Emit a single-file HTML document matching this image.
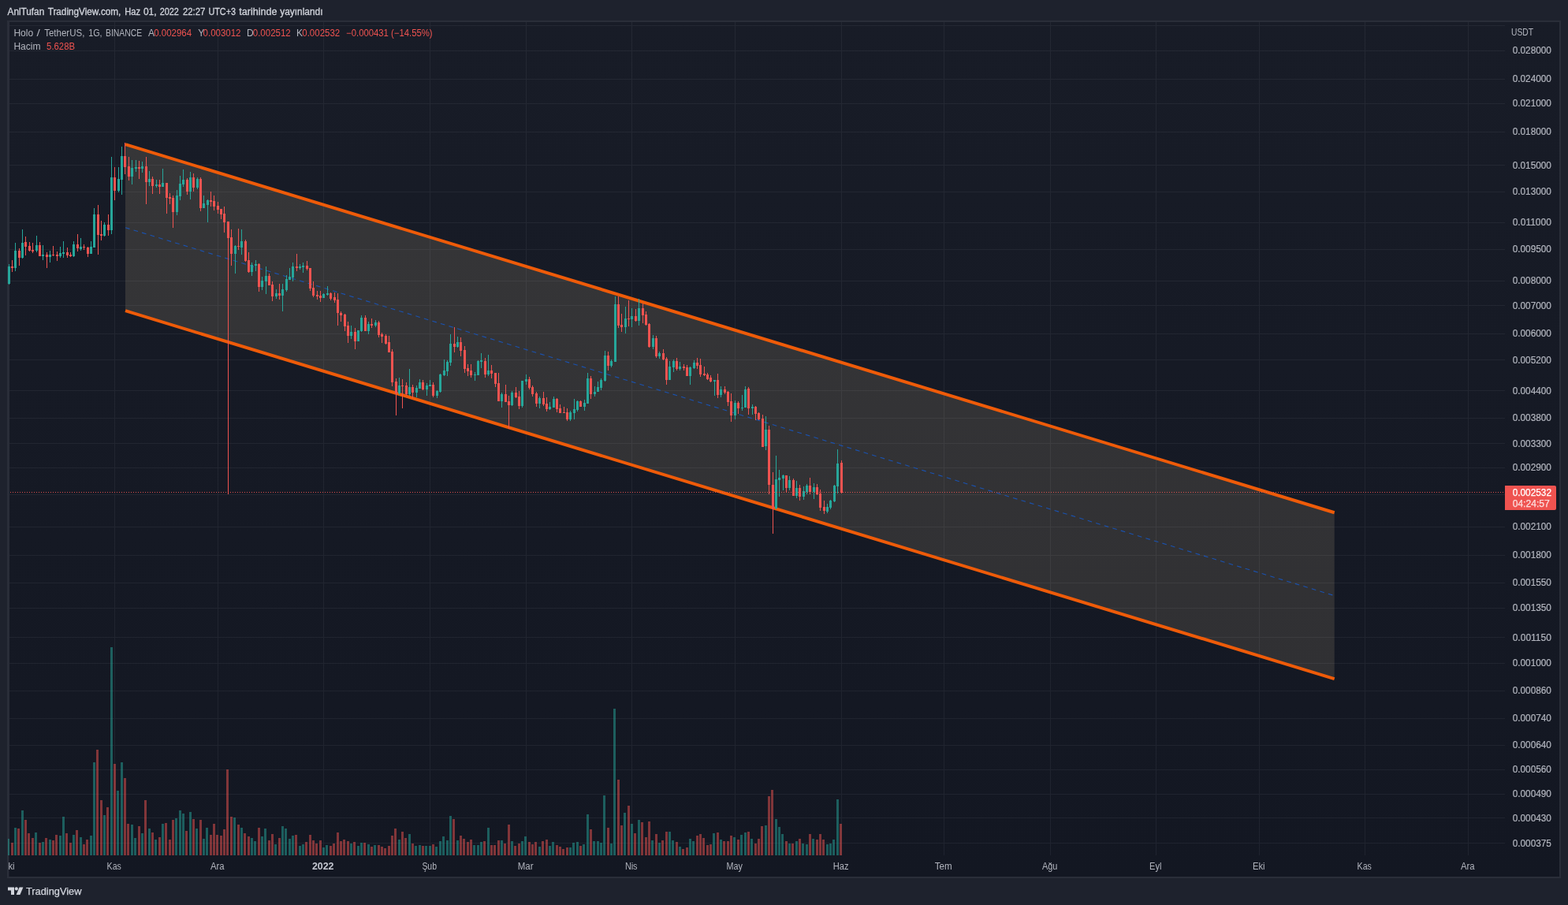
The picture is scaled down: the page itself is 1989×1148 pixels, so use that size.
<!DOCTYPE html>
<html lang="tr"><head><meta charset="utf-8"><title>HOTUSDT</title>
<style>html,body{margin:0;padding:0;background:#1e222d;width:1989px;height:1148px}svg{display:block}</style></head>
<body>
<svg width="1989" height="1148" viewBox="0 0 1989 1148" font-family='"Liberation Sans", "DejaVu Sans", sans-serif' font-size="12">
<rect width="1989" height="1148" fill="#1e222d"/>
<defs><linearGradient id="bg" gradientUnits="userSpaceOnUse" x1="0" y1="28" x2="0" y2="1112"><stop offset="0" stop-color="#181c27"/><stop offset="1" stop-color="#131722"/></linearGradient><linearGradient id="cf" gradientUnits="userSpaceOnUse" x1="0" y1="183" x2="0" y2="861"><stop offset="0" stop-color="#363638"/><stop offset="1" stop-color="#303033"/></linearGradient></defs>
<rect x="10" y="27" width="1969" height="1086" fill="url(#bg)" stroke="#2a2e39" stroke-width="2"/>
<rect x="11" y="28" width="1" height="1084" fill="#2a2e39" opacity="0.4"/>
<clipPath id="pc"><rect x="10" y="28" width="1899" height="1057"/></clipPath>
<polygon points="159,183.2 1692.7,650.25 1692.7,861.05 159,394.2" fill="url(#cf)"/>
<path d="M12 32.5H1909 M12 64.5H1909 M12 100.5H1909 M12 131.5H1909 M12 167.5H1909 M12 209.5H1909 M12 243.5H1909 M12 282.5H1909 M12 316.5H1909 M12 356.5H1909 M12 387.5H1909 M12 423.5H1909 M12 456.5H1909 M12 495.5H1909 M12 530.5H1909 M12 562.5H1909 M12 593.5H1909 M12 627.5H1909 M12 668.5H1909 M12 704.5H1909 M12 739.5H1909 M12 771.5H1909 M12 808.5H1909 M12 841.5H1909 M12 876.5H1909 M12 911.5H1909 M12 945.5H1909 M12 976.5H1909 M12 1007.5H1909 M12 1037.5H1909 M12 1069.5H1909 M11.5 28V1085 M145.5 28V1085 M276.5 28V1085 M410.5 28V1085 M545.5 28V1085 M667.5 28V1085 M801.5 28V1085 M932.5 28V1085 M1067.5 28V1085 M1197.5 28V1085 M1332.5 28V1085 M1466.5 28V1085 M1597.5 28V1085 M1731.5 28V1085 M1862.5 28V1085" stroke="rgba(240,243,250,0.06)" stroke-width="1" fill="none" shape-rendering="crispEdges"/>
<path d="M9 1064h3V1085h-3z M18 1050h3V1085h-3z M27 1028h3V1085h-3z M44 1056h3V1085h-3z M53 1068h3V1085h-3z M62 1065h3V1085h-3z M75 1060h3V1085h-3z M79 1036h3V1085h-3z M92 1059h3V1085h-3z M101 1062h3V1085h-3z M114 1060h3V1085h-3z M118 967h3V1085h-3z M131 1034h3V1085h-3z M140 821h3V1085h-3z M148 1003h3V1085h-3z M153 967h3V1085h-3z M166 1046h3V1085h-3z M170 1063h3V1085h-3z M179 1057h3V1085h-3z M188 1051h3V1085h-3z M196 1065h3V1085h-3z M205 1045h3V1085h-3z M222 1038h3V1085h-3z M227 1028h3V1085h-3z M231 1032h3V1085h-3z M240 1030h3V1085h-3z M248 1051h3V1085h-3z M257 1064h3V1085h-3z M261 1050h3V1085h-3z M296 1037h3V1085h-3z M305 1050h3V1085h-3z M318 1063h3V1085h-3z M322 1067h3V1085h-3z M331 1061h3V1085h-3z M335 1051h3V1085h-3z M348 1071h3V1085h-3z M357 1048h3V1085h-3z M361 1051h3V1085h-3z M366 1064h3V1085h-3z M370 1060h3V1085h-3z M379 1073h3V1085h-3z M383 1071h3V1085h-3z M409 1075h3V1085h-3z M413 1072h3V1085h-3z M444 1070h3V1085h-3z M453 1073h3V1085h-3z M457 1069h3V1085h-3z M466 1071h3V1085h-3z M474 1072h3V1085h-3z M505 1065h3V1085h-3z M518 1058h3V1085h-3z M526 1073h3V1085h-3z M531 1072h3V1085h-3z M539 1073h3V1085h-3z M544 1073h3V1085h-3z M552 1074h3V1085h-3z M557 1067h3V1085h-3z M561 1061h3V1085h-3z M566 1066h3V1085h-3z M570 1035h3V1085h-3z M579 1066h3V1085h-3z M600 1072h3V1085h-3z M605 1072h3V1085h-3z M609 1068h3V1085h-3z M618 1050h3V1085h-3z M635 1066h3V1085h-3z M648 1067h3V1085h-3z M661 1067h3V1085h-3z M665 1061h3V1085h-3z M683 1074h3V1085h-3z M696 1073h3V1085h-3z M700 1068h3V1085h-3z M722 1075h3V1085h-3z M726 1069h3V1085h-3z M731 1068h3V1085h-3z M739 1071h3V1085h-3z M744 1033h3V1085h-3z M752 1067h3V1085h-3z M757 1067h3V1085h-3z M761 1069h3V1085h-3z M765 1009h3V1085h-3z M774 1070h3V1085h-3z M778 899h3V1085h-3z M791 1031h3V1085h-3z M800 1045h3V1085h-3z M809 1040h3V1085h-3z M826 1066h3V1085h-3z M835 1069h3V1085h-3z M848 1055h3V1085h-3z M852 1066h3V1085h-3z M861 1074h3V1085h-3z M874 1064h3V1085h-3z M878 1067h3V1085h-3z M904 1057h3V1085h-3z M913 1065h3V1085h-3z M930 1062h3V1085h-3z M939 1059h3V1085h-3z M944 1056h3V1085h-3z M952 1064h3V1085h-3z M970 1047h3V1085h-3z M983 1039h3V1085h-3z M987 1049h3V1085h-3z M991 1058h3V1085h-3z M1000 1070h3V1085h-3z M1009 1067h3V1085h-3z M1017 1070h3V1085h-3z M1022 1071h3V1085h-3z M1030 1064h3V1085h-3z M1048 1071h3V1085h-3z M1052 1070h3V1085h-3z M1056 1065h3V1085h-3z M1061 1014h3V1085h-3z" fill="#26a69a" fill-opacity="0.5" shape-rendering="crispEdges" clip-path="url(#pc)"/>
<path d="M14 1069h3V1085h-3z M22 1051h3V1085h-3z M31 1040h3V1085h-3z M35 1057h3V1085h-3z M40 1063h3V1085h-3z M49 1069h3V1085h-3z M57 1063h3V1085h-3z M66 1066h3V1085h-3z M70 1059h3V1085h-3z M83 1057h3V1085h-3z M88 1069h3V1085h-3z M96 1053h3V1085h-3z M105 1071h3V1085h-3z M109 1065h3V1085h-3z M122 951h3V1085h-3z M127 1015h3V1085h-3z M135 1024h3V1085h-3z M144 969h3V1085h-3z M157 987h3V1085h-3z M161 1045h3V1085h-3z M175 1048h3V1085h-3z M183 1015h3V1085h-3z M192 1056h3V1085h-3z M201 1062h3V1085h-3z M209 1044h3V1085h-3z M214 1065h3V1085h-3z M218 1040h3V1085h-3z M235 1054h3V1085h-3z M244 1039h3V1085h-3z M253 1040h3V1085h-3z M266 1059h3V1085h-3z M270 1045h3V1085h-3z M274 1059h3V1085h-3z M279 1060h3V1085h-3z M283 1052h3V1085h-3z M287 976h3V1085h-3z M292 1036h3V1085h-3z M301 1046h3V1085h-3z M309 1057h3V1085h-3z M314 1061h3V1085h-3z M327 1050h3V1085h-3z M340 1066h3V1085h-3z M344 1058h3V1085h-3z M353 1063h3V1085h-3z M374 1059h3V1085h-3z M387 1068h3V1085h-3z M392 1059h3V1085h-3z M396 1066h3V1085h-3z M400 1070h3V1085h-3z M405 1066h3V1085h-3z M418 1073h3V1085h-3z M422 1070h3V1085h-3z M427 1056h3V1085h-3z M431 1067h3V1085h-3z M435 1065h3V1085h-3z M440 1067h3V1085h-3z M448 1068h3V1085h-3z M461 1069h3V1085h-3z M470 1074h3V1085h-3z M479 1072h3V1085h-3z M483 1074h3V1085h-3z M487 1076h3V1085h-3z M492 1073h3V1085h-3z M496 1060h3V1085h-3z M500 1051h3V1085h-3z M509 1055h3V1085h-3z M513 1063h3V1085h-3z M522 1070h3V1085h-3z M535 1073h3V1085h-3z M548 1071h3V1085h-3z M574 1039h3V1085h-3z M583 1060h3V1085h-3z M587 1064h3V1085h-3z M592 1068h3V1085h-3z M596 1065h3V1085h-3z M613 1067h3V1085h-3z M622 1072h3V1085h-3z M626 1072h3V1085h-3z M631 1066h3V1085h-3z M639 1070h3V1085h-3z M644 1046h3V1085h-3z M652 1073h3V1085h-3z M657 1070h3V1085h-3z M670 1068h3V1085h-3z M674 1071h3V1085h-3z M678 1068h3V1085h-3z M687 1067h3V1085h-3z M692 1065h3V1085h-3z M705 1072h3V1085h-3z M709 1074h3V1085h-3z M713 1077h3V1085h-3z M718 1075h3V1085h-3z M735 1073h3V1085h-3z M748 1052h3V1085h-3z M770 1050h3V1085h-3z M783 989h3V1085h-3z M787 1047h3V1085h-3z M796 1022h3V1085h-3z M804 1057h3V1085h-3z M813 1043h3V1085h-3z M818 1062h3V1085h-3z M822 1042h3V1085h-3z M831 1058h3V1085h-3z M839 1066h3V1085h-3z M844 1055h3V1085h-3z M857 1068h3V1085h-3z M865 1077h3V1085h-3z M870 1075h3V1085h-3z M883 1060h3V1085h-3z M887 1058h3V1085h-3z M891 1063h3V1085h-3z M896 1072h3V1085h-3z M900 1071h3V1085h-3z M909 1056h3V1085h-3z M917 1067h3V1085h-3z M922 1067h3V1085h-3z M926 1060h3V1085h-3z M935 1065h3V1085h-3z M948 1055h3V1085h-3z M957 1070h3V1085h-3z M961 1064h3V1085h-3z M965 1048h3V1085h-3z M974 1010h3V1085h-3z M978 1002h3V1085h-3z M996 1067h3V1085h-3z M1004 1070h3V1085h-3z M1013 1064h3V1085h-3z M1026 1058h3V1085h-3z M1035 1065h3V1085h-3z M1039 1058h3V1085h-3z M1043 1065h3V1085h-3z M1065 1045h3V1085h-3z" fill="#ef5350" fill-opacity="0.5" shape-rendering="crispEdges" clip-path="url(#pc)"/>
<line x1="159" y1="288.7" x2="1692.7" y2="755.58" stroke="#1a52b0" stroke-width="1.1" stroke-dasharray="5.7 5.3"/>
<path d="M159 183.2L1692.7 650.25M159 394.2L1692.7 861.05" stroke="#ee5b09" stroke-width="4" fill="none"/>
<path d="M11.5 335V361 M19.5 308V344 M28.5 291V328 M46.5 299V320 M54.5 311V330 M63.5 318V333 M76.5 313V327 M80.5 306V327 M93.5 306V326 M102.5 302V318 M115.5 306V322 M119.5 264V314 M132.5 282V300 M141.5 199V297 M150.5 212V244 M154.5 186V247 M167.5 203V234 M172.5 203V218 M180.5 205V219 M189.5 217V236 M198.5 228V238 M206.5 214V237 M224.5 241V273 M228.5 223V254 M232.5 215V237 M241.5 218V253 M250.5 225V240 M258.5 248V264 M263.5 253V282 M298.5 311V347 M306.5 291V323 M319.5 333V350 M324.5 330V344 M332.5 351V368 M337.5 338V373 M350.5 367V379 M358.5 360V395 M363.5 349V370 M367.5 340V355 M371.5 333V357 M380.5 335V342 M384.5 333V346 M410.5 372V378 M415.5 363V375 M445.5 413V430 M454.5 419V433 M458.5 400V421 M467.5 408V424 M476.5 406V415 M506.5 479V501 M519.5 468V502 M528.5 489V504 M532.5 481V493 M541.5 486V502 M545.5 482V490 M554.5 495V505 M558.5 474V498 M563.5 456V477 M567.5 457V477 M571.5 424V464 M580.5 427V441 M602.5 472V483 M606.5 457V476 M610.5 448V467 M619.5 450V477 M636.5 498V517 M649.5 496V515 M662.5 483V517 M667.5 475V488 M684.5 503V518 M697.5 510V520 M702.5 503V517 M723.5 521V534 M728.5 506V532 M732.5 508V522 M741.5 507V521 M745.5 473V512 M754.5 490V503 M758.5 484V497 M762.5 480V495 M767.5 445V484 M775.5 456V466 M780.5 376V459 M793.5 389V423 M801.5 391V415 M810.5 379V413 M828.5 425V443 M836.5 446V455 M849.5 458V482 M854.5 456V472 M862.5 459V470 M875.5 465V488 M880.5 457V468 M906.5 482V502 M914.5 490V504 M932.5 508V532 M941.5 501V521 M945.5 490V517 M954.5 513V526 M971.5 528V571 M984.5 578V646 M988.5 596V630 M993.5 602V622 M1001.5 604V622 M1010.5 610V632 M1019.5 617V634 M1023.5 614V627 M1032.5 613V633 M1049.5 639V651 M1053.5 634V646 M1058.5 615V637 M1062.5 570V626" stroke="#26a69a" stroke-width="1" fill="none" shape-rendering="crispEdges"/>
<path d="M10 338h3v22h-3z M18 318h3v22h-3z M27 308h3v19h-3z M45 311h3v7h-3z M53 323h3v2h-3z M62 323h3v3h-3z M75 321h3v4h-3z M79 320h3v2h-3z M92 310h3v15h-3z M101 313h3v3h-3z M114 313h3v9h-3z M118 272h3v42h-3z M131 285h3v14h-3z M140 225h3v67h-3z M149 227h3v15h-3z M153 198h3v30h-3z M166 213h3v11h-3z M171 212h3v2h-3z M179 211h3v3h-3z M188 227h3v4h-3z M197 234h3v2h-3z M205 232h3v5h-3z M223 248h3v21h-3z M227 233h3v16h-3z M231 228h3v6h-3z M240 225h3v18h-3z M249 227h3v11h-3z M257 258h3v6h-3z M262 254h3v6h-3z M297 312h3v10h-3z M305 306h3v8h-3z M318 336h3v9h-3z M323 335h3v2h-3z M331 356h3v8h-3z M336 350h3v7h-3z M349 372h3v4h-3z M357 367h3v8h-3z M362 354h3v14h-3z M366 351h3v4h-3z M370 338h3v14h-3z M379 338h3v2h-3z M383 337h3v2h-3z M409 373h3v5h-3z M414 372h3v2h-3z M444 421h3v5h-3z M453 419h3v14h-3z M457 403h3v17h-3z M466 411h3v9h-3z M475 409h3v4h-3z M505 489h3v10h-3z M518 491h3v9h-3z M527 492h3v6h-3z M531 485h3v8h-3z M540 489h3v5h-3z M544 488h3v2h-3z M553 496h3v6h-3z M557 475h3v22h-3z M562 470h3v6h-3z M566 459h3v12h-3z M570 436h3v24h-3z M579 434h3v6h-3z M601 475h3v1h-3z M605 458h3v18h-3z M609 457h3v2h-3z M618 470h3v5h-3z M635 500h3v9h-3z M648 498h3v16h-3z M661 483h3v32h-3z M666 481h3v3h-3z M683 505h3v7h-3z M696 516h3v3h-3z M701 506h3v11h-3z M722 523h3v9h-3z M727 519h3v5h-3z M731 509h3v11h-3z M740 511h3v5h-3z M744 480h3v32h-3z M753 497h3v3h-3z M757 491h3v6h-3z M761 482h3v10h-3z M766 451h3v32h-3z M774 458h3v6h-3z M779 386h3v73h-3z M792 404h3v11h-3z M800 401h3v4h-3z M809 391h3v16h-3z M827 429h3v11h-3z M835 448h3v4h-3z M848 465h3v17h-3z M853 458h3v8h-3z M861 465h3v3h-3z M874 466h3v11h-3z M879 460h3v7h-3z M905 482h3v2h-3z M913 494h3v7h-3z M931 511h3v16h-3z M940 517h3v1h-3z M944 494h3v23h-3z M953 516h3v2h-3z M970 545h3v21h-3z M983 608h3v37h-3z M987 606h3v3h-3z M992 603h3v4h-3z M1000 609h3v10h-3z M1009 619h3v10h-3z M1018 623h3v7h-3z M1022 616h3v8h-3z M1031 618h3v6h-3z M1048 643h3v6h-3z M1052 635h3v9h-3z M1057 616h3v20h-3z M1061 588h3v29h-3z" fill="#26a69a" shape-rendering="crispEdges" clip-path="url(#pc)"/>
<path d="M15.5 330V345 M24.5 315V337 M32.5 300V324 M37.5 307V319 M41.5 308V321 M50.5 307V325 M59.5 320V340 M67.5 312V325 M72.5 319V331 M85.5 314V327 M89.5 320V326 M98.5 297V319 M106.5 310V317 M111.5 313V326 M124.5 260V323 M128.5 280V305 M137.5 272V299 M145.5 212V254 M158.5 181V221 M163.5 199V229 M176.5 204V227 M185.5 199V259 M193.5 224V246 M202.5 228V246 M211.5 232V271 M215.5 245V259 M219.5 248V289 M237.5 226V247 M245.5 220V243 M254.5 225V268 M267.5 243V262 M271.5 248V267 M276.5 256V271 M280.5 265V278 M284.5 262V295 M289.5 281V627 M293.5 291V337 M302.5 290V317 M311.5 304V332 M315.5 320V346 M328.5 334V370 M341.5 347V362 M345.5 357V382 M354.5 360V380 M376.5 322V344 M389.5 331V343 M393.5 340V369 M397.5 357V377 M402.5 369V380 M406.5 369V383 M419.5 371V381 M424.5 371V384 M428.5 372V413 M432.5 395V408 M437.5 398V420 M441.5 408V435 M450.5 416V443 M463.5 400V420 M471.5 404V416 M480.5 407V428 M484.5 422V435 M489.5 424V437 M493.5 426V447 M497.5 443V490 M502.5 480V527 M510.5 481V518 M515.5 485V502 M523.5 488V505 M536.5 482V495 M549.5 485V504 M576.5 415V447 M584.5 428V452 M589.5 439V473 M593.5 462V477 M597.5 462V479 M615.5 454V479 M623.5 463V480 M628.5 473V491 M632.5 473V509 M641.5 488V510 M645.5 502V544 M654.5 491V505 M658.5 496V519 M671.5 478V494 M675.5 489V503 M680.5 497V516 M689.5 497V515 M693.5 504V522 M706.5 505V523 M710.5 513V524 M715.5 516V524 M719.5 518V534 M736.5 508V516 M749.5 477V506 M771.5 446V470 M784.5 376V416 M788.5 398V421 M797.5 381V414 M806.5 392V408 M815.5 385V410 M819.5 395V413 M823.5 410V441 M832.5 426V454 M841.5 443V457 M845.5 453V488 M858.5 454V470 M867.5 462V470 M871.5 463V477 M884.5 454V468 M888.5 455V478 M893.5 465V477 M897.5 473V482 M901.5 476V485 M910.5 474V505 M919.5 490V500 M923.5 496V515 M927.5 499V535 M936.5 509V525 M949.5 491V526 M958.5 515V533 M962.5 523V533 M967.5 526V567 M975.5 540V627 M980.5 599V677 M997.5 603V625 M1006.5 607V629 M1014.5 615V635 M1027.5 606V627 M1036.5 614V628 M1040.5 621V648 M1045.5 635V652 M1067.5 584V626" stroke="#ef5350" stroke-width="1" fill="none" shape-rendering="crispEdges"/>
<path d="M14 338h3v2h-3z M23 318h3v9h-3z M31 307h3v6h-3z M36 312h3v6h-3z M40 317h3v2h-3z M49 311h3v14h-3z M58 323h3v3h-3z M66 323h3v1h-3z M71 323h3v2h-3z M84 320h3v4h-3z M88 323h3v2h-3z M97 310h3v5h-3z M105 313h3v1h-3z M110 314h3v8h-3z M123 272h3v26h-3z M127 297h3v2h-3z M136 285h3v7h-3z M144 225h3v17h-3z M157 198h3v14h-3z M162 211h3v13h-3z M175 212h3v2h-3z M184 211h3v20h-3z M192 227h3v9h-3z M201 234h3v3h-3z M210 232h3v19h-3z M214 250h3v2h-3z M218 251h3v18h-3z M236 228h3v15h-3z M244 225h3v13h-3z M253 227h3v37h-3z M266 254h3v2h-3z M270 255h3v7h-3z M275 261h3v5h-3z M279 265h3v7h-3z M283 271h3v11h-3z M288 281h3v21h-3z M292 301h3v21h-3z M301 312h3v1h-3z M310 306h3v25h-3z M314 330h3v15h-3z M327 335h3v29h-3z M340 350h3v12h-3z M344 361h3v15h-3z M353 372h3v3h-3z M375 338h3v2h-3z M388 337h3v4h-3z M392 340h3v26h-3z M396 365h3v10h-3z M401 374h3v2h-3z M405 375h3v3h-3z M418 372h3v7h-3z M423 377h3v4h-3z M427 380h3v17h-3z M431 397h3v3h-3z M436 399h3v15h-3z M440 413h3v13h-3z M449 421h3v12h-3z M462 403h3v17h-3z M470 411h3v2h-3z M479 409h3v16h-3z M483 424h3v3h-3z M488 426h3v10h-3z M492 434h3v13h-3z M496 446h3v39h-3z M501 484h3v15h-3z M509 489h3v1h-3z M514 489h3v11h-3z M522 491h3v7h-3z M535 485h3v9h-3z M548 488h3v14h-3z M575 436h3v4h-3z M583 434h3v11h-3z M588 444h3v24h-3z M592 467h3v4h-3z M596 470h3v6h-3z M614 458h3v17h-3z M622 470h3v4h-3z M627 473h3v14h-3z M631 486h3v23h-3z M640 500h3v10h-3z M644 509h3v5h-3z M653 498h3v6h-3z M657 503h3v12h-3z M670 481h3v11h-3z M674 491h3v9h-3z M679 499h3v13h-3z M688 505h3v8h-3z M692 512h3v7h-3z M705 506h3v13h-3z M709 518h3v6h-3z M714 523h3v1h-3z M718 523h3v9h-3z M735 509h3v7h-3z M748 480h3v20h-3z M770 451h3v13h-3z M783 386h3v27h-3z M787 412h3v3h-3z M796 404h3v1h-3z M805 401h3v6h-3z M814 391h3v9h-3z M818 399h3v13h-3z M822 411h3v29h-3z M831 429h3v23h-3z M840 448h3v8h-3z M844 455h3v27h-3z M857 458h3v10h-3z M866 465h3v2h-3z M870 466h3v11h-3z M883 460h3v4h-3z M887 463h3v12h-3z M892 474h3v2h-3z M896 475h3v6h-3z M900 479h3v5h-3z M909 482h3v19h-3z M918 494h3v4h-3z M922 497h3v13h-3z M926 509h3v18h-3z M935 511h3v7h-3z M948 493h3v25h-3z M957 516h3v9h-3z M961 524h3v8h-3z M966 531h3v36h-3z M974 545h3v70h-3z M979 615h3v30h-3z M996 603h3v16h-3z M1005 609h3v20h-3z M1013 619h3v11h-3z M1026 616h3v8h-3z M1035 618h3v9h-3z M1039 626h3v18h-3z M1044 643h3v5h-3z M1066 587h3v38h-3z" fill="#ef5350" shape-rendering="crispEdges" clip-path="url(#pc)"/>
<path d="M11 624.5H1909" stroke="#ef5350" stroke-width="1" stroke-dasharray="1 2" stroke-dashoffset="1" fill="none" shape-rendering="crispEdges" opacity="0.9"/>
<text x="1918.7" y="68.36" fill="#b2b5be" textLength="49.2" lengthAdjust="spacingAndGlyphs" stroke="#b2b5be" stroke-width="0.2">0.028000</text>
<text x="1918.7" y="104.3" fill="#b2b5be" textLength="49.2" lengthAdjust="spacingAndGlyphs" stroke="#b2b5be" stroke-width="0.2">0.024000</text>
<text x="1918.7" y="135.42" fill="#b2b5be" textLength="49.2" lengthAdjust="spacingAndGlyphs" stroke="#b2b5be" stroke-width="0.2">0.021000</text>
<text x="1918.7" y="171.35" fill="#b2b5be" textLength="49.2" lengthAdjust="spacingAndGlyphs" stroke="#b2b5be" stroke-width="0.2">0.018000</text>
<text x="1918.7" y="213.85" fill="#b2b5be" textLength="49.2" lengthAdjust="spacingAndGlyphs" stroke="#b2b5be" stroke-width="0.2">0.015000</text>
<text x="1918.7" y="247.21" fill="#b2b5be" textLength="49.2" lengthAdjust="spacingAndGlyphs" stroke="#b2b5be" stroke-width="0.2">0.013000</text>
<text x="1918.7" y="286.15" fill="#b2b5be" textLength="49.2" lengthAdjust="spacingAndGlyphs" stroke="#b2b5be" stroke-width="0.2">0.011000</text>
<text x="1918.7" y="320.32" fill="#b2b5be" textLength="49.2" lengthAdjust="spacingAndGlyphs" stroke="#b2b5be" stroke-width="0.2">0.009500</text>
<text x="1918.7" y="360.38" fill="#b2b5be" textLength="49.2" lengthAdjust="spacingAndGlyphs" stroke="#b2b5be" stroke-width="0.2">0.008000</text>
<text x="1918.7" y="391.51" fill="#b2b5be" textLength="49.2" lengthAdjust="spacingAndGlyphs" stroke="#b2b5be" stroke-width="0.2">0.007000</text>
<text x="1918.7" y="427.44" fill="#b2b5be" textLength="49.2" lengthAdjust="spacingAndGlyphs" stroke="#b2b5be" stroke-width="0.2">0.006000</text>
<text x="1918.7" y="460.8" fill="#b2b5be" textLength="49.2" lengthAdjust="spacingAndGlyphs" stroke="#b2b5be" stroke-width="0.2">0.005200</text>
<text x="1918.7" y="499.74" fill="#b2b5be" textLength="49.2" lengthAdjust="spacingAndGlyphs" stroke="#b2b5be" stroke-width="0.2">0.004400</text>
<text x="1918.7" y="533.91" fill="#b2b5be" textLength="49.2" lengthAdjust="spacingAndGlyphs" stroke="#b2b5be" stroke-width="0.2">0.003800</text>
<text x="1918.7" y="566.8" fill="#b2b5be" textLength="49.2" lengthAdjust="spacingAndGlyphs" stroke="#b2b5be" stroke-width="0.2">0.003300</text>
<text x="1918.7" y="596.92" fill="#b2b5be" textLength="49.2" lengthAdjust="spacingAndGlyphs" stroke="#b2b5be" stroke-width="0.2">0.002900</text>
<text x="1918.7" y="672.15" fill="#b2b5be" textLength="49.2" lengthAdjust="spacingAndGlyphs" stroke="#b2b5be" stroke-width="0.2">0.002100</text>
<text x="1918.7" y="708.09" fill="#b2b5be" textLength="49.2" lengthAdjust="spacingAndGlyphs" stroke="#b2b5be" stroke-width="0.2">0.001800</text>
<text x="1918.7" y="742.94" fill="#b2b5be" textLength="49.2" lengthAdjust="spacingAndGlyphs" stroke="#b2b5be" stroke-width="0.2">0.001550</text>
<text x="1918.7" y="775.15" fill="#b2b5be" textLength="49.2" lengthAdjust="spacingAndGlyphs" stroke="#b2b5be" stroke-width="0.2">0.001350</text>
<text x="1918.7" y="812.52" fill="#b2b5be" textLength="49.2" lengthAdjust="spacingAndGlyphs" stroke="#b2b5be" stroke-width="0.2">0.001150</text>
<text x="1918.7" y="845.1" fill="#b2b5be" textLength="49.2" lengthAdjust="spacingAndGlyphs" stroke="#b2b5be" stroke-width="0.2">0.001000</text>
<text x="1918.7" y="880.26" fill="#b2b5be" textLength="49.2" lengthAdjust="spacingAndGlyphs" stroke="#b2b5be" stroke-width="0.2">0.000860</text>
<text x="1918.7" y="915.29" fill="#b2b5be" textLength="49.2" lengthAdjust="spacingAndGlyphs" stroke="#b2b5be" stroke-width="0.2">0.000740</text>
<text x="1918.7" y="949.13" fill="#b2b5be" textLength="49.2" lengthAdjust="spacingAndGlyphs" stroke="#b2b5be" stroke-width="0.2">0.000640</text>
<text x="1918.7" y="980.26" fill="#b2b5be" textLength="49.2" lengthAdjust="spacingAndGlyphs" stroke="#b2b5be" stroke-width="0.2">0.000560</text>
<text x="1918.7" y="1011.38" fill="#b2b5be" textLength="49.2" lengthAdjust="spacingAndGlyphs" stroke="#b2b5be" stroke-width="0.2">0.000490</text>
<text x="1918.7" y="1041.83" fill="#b2b5be" textLength="49.2" lengthAdjust="spacingAndGlyphs" stroke="#b2b5be" stroke-width="0.2">0.000430</text>
<text x="1918.7" y="1073.73" fill="#b2b5be" textLength="49.2" lengthAdjust="spacingAndGlyphs" stroke="#b2b5be" stroke-width="0.2">0.000375</text>
<text x="1917" y="44.8" fill="#b2b5be" textLength="28" lengthAdjust="spacingAndGlyphs">USDT</text>
<path d="M1909 616h63a2 2 0 0 1 2 2v27a2 2 0 0 1 -2 2h-63z" fill="#ef5350"/>
<text x="1918.7" y="629.3" fill="#ffffff" textLength="49.3" lengthAdjust="spacingAndGlyphs" stroke="#ffffff" stroke-width="0.25">0.002532</text>
<text x="1918.7" y="643.3" fill="#fbdcdc" textLength="47.0" lengthAdjust="spacingAndGlyphs" stroke="#fbdcdc" stroke-width="0.25">04:24:57</text>
<text x="10.7" y="1102.6" fill="#b2b5be" text-anchor="middle" textLength="15.6" lengthAdjust="spacingAndGlyphs">Eki</text>
<text x="144.7" y="1102.6" fill="#b2b5be" text-anchor="middle" textLength="18.2" lengthAdjust="spacingAndGlyphs">Kas</text>
<text x="275.7" y="1102.6" fill="#b2b5be" text-anchor="middle" textLength="17.6" lengthAdjust="spacingAndGlyphs">Ara</text>
<text x="409.7" y="1102.6" fill="#c3c6d0" text-anchor="middle" textLength="27.6" lengthAdjust="spacingAndGlyphs" font-weight="bold">2022</text>
<text x="544.7" y="1102.6" fill="#b2b5be" text-anchor="middle" textLength="18.6" lengthAdjust="spacingAndGlyphs">Şub</text>
<text x="666.7" y="1102.6" fill="#b2b5be" text-anchor="middle" textLength="19.8" lengthAdjust="spacingAndGlyphs">Mar</text>
<text x="800.7" y="1102.6" fill="#b2b5be" text-anchor="middle" textLength="15.6" lengthAdjust="spacingAndGlyphs">Nis</text>
<text x="931.7" y="1102.6" fill="#b2b5be" text-anchor="middle" textLength="20.3" lengthAdjust="spacingAndGlyphs">May</text>
<text x="1066.7" y="1102.6" fill="#b2b5be" text-anchor="middle" textLength="19.8" lengthAdjust="spacingAndGlyphs">Haz</text>
<text x="1196.7" y="1102.6" fill="#b2b5be" text-anchor="middle" textLength="21.9" lengthAdjust="spacingAndGlyphs">Tem</text>
<text x="1331.7" y="1102.6" fill="#b2b5be" text-anchor="middle" textLength="19.4" lengthAdjust="spacingAndGlyphs">Ağu</text>
<text x="1465.7" y="1102.6" fill="#b2b5be" text-anchor="middle" textLength="15.4" lengthAdjust="spacingAndGlyphs">Eyl</text>
<text x="1596.7" y="1102.6" fill="#b2b5be" text-anchor="middle" textLength="15.6" lengthAdjust="spacingAndGlyphs">Eki</text>
<text x="1730.7" y="1102.6" fill="#b2b5be" text-anchor="middle" textLength="18.2" lengthAdjust="spacingAndGlyphs">Kas</text>
<text x="1861.7" y="1102.6" fill="#b2b5be" text-anchor="middle" textLength="17.6" lengthAdjust="spacingAndGlyphs">Ara</text>
<rect x="0" y="1086" width="9" height="26" fill="#1e222d"/><rect x="9" y="1086" width="2" height="26" fill="#2a2e39"/>
<text x="9.6" y="18.9" fill="#d1d4dc" textLength="46.6" lengthAdjust="spacingAndGlyphs" stroke="#d1d4dc" stroke-width="0.3">AnlTufan</text>
<text x="60.7" y="18.9" fill="#d1d4dc" textLength="92.7" lengthAdjust="spacingAndGlyphs" stroke="#d1d4dc" stroke-width="0.3">TradingView.com,</text>
<text x="158.3" y="18.9" fill="#d1d4dc" textLength="19.7" lengthAdjust="spacingAndGlyphs" stroke="#d1d4dc" stroke-width="0.3">Haz</text>
<text x="181.9" y="18.9" fill="#d1d4dc" textLength="16.6" lengthAdjust="spacingAndGlyphs" stroke="#d1d4dc" stroke-width="0.3">01,</text>
<text x="202.7" y="18.9" fill="#d1d4dc" textLength="24.2" lengthAdjust="spacingAndGlyphs" stroke="#d1d4dc" stroke-width="0.3">2022</text>
<text x="232" y="18.9" fill="#d1d4dc" textLength="28.4" lengthAdjust="spacingAndGlyphs" stroke="#d1d4dc" stroke-width="0.3">22:27</text>
<text x="264.4" y="18.9" fill="#d1d4dc" textLength="34.6" lengthAdjust="spacingAndGlyphs" stroke="#d1d4dc" stroke-width="0.3">UTC+3</text>
<text x="303.2" y="18.9" fill="#d1d4dc" textLength="48.3" lengthAdjust="spacingAndGlyphs" stroke="#d1d4dc" stroke-width="0.3">tarihinde</text>
<text x="355.3" y="18.9" fill="#d1d4dc" textLength="54.2" lengthAdjust="spacingAndGlyphs" stroke="#d1d4dc" stroke-width="0.3">yayınlandı</text>
<text x="17.4" y="46.0" fill="#b2b5be" textLength="24.8" lengthAdjust="spacingAndGlyphs">Holo</text>
<text x="46.6" y="46.0" fill="#b2b5be" textLength="4.3" lengthAdjust="spacingAndGlyphs">/</text>
<text x="56.2" y="46.0" fill="#b2b5be" textLength="51.2" lengthAdjust="spacingAndGlyphs">TetherUS,</text>
<text x="112.3" y="46.0" fill="#b2b5be" textLength="17.3" lengthAdjust="spacingAndGlyphs">1G,</text>
<text x="134.0" y="46.0" fill="#b2b5be" textLength="46.2" lengthAdjust="spacingAndGlyphs">BINANCE</text>
<text x="187.9" y="46.0" fill="#b2b5be">A</text>
<text x="195.2" y="46.0" fill="#ef5350" textLength="47.9" lengthAdjust="spacingAndGlyphs">0.002964</text>
<text x="251.3" y="46.0" fill="#b2b5be">Y</text>
<text x="257.6" y="46.0" fill="#ef5350" textLength="47.9" lengthAdjust="spacingAndGlyphs">0.003012</text>
<text x="313.1" y="46.0" fill="#b2b5be">D</text>
<text x="320.8" y="46.0" fill="#ef5350" textLength="47.9" lengthAdjust="spacingAndGlyphs">0.002512</text>
<text x="376.1" y="46.0" fill="#b2b5be">K</text>
<text x="383.3" y="46.0" fill="#ef5350" textLength="47.9" lengthAdjust="spacingAndGlyphs">0.002532</text>
<text x="439.1" y="46.0" fill="#ef5350" textLength="109.5" lengthAdjust="spacingAndGlyphs">−0.000431 (−14.55%)</text>
<text x="17.4" y="62.9" fill="#b2b5be" textLength="34.1" lengthAdjust="spacingAndGlyphs">Hacim</text>
<text x="59.1" y="63" fill="#ef5350" textLength="35.9" lengthAdjust="spacingAndGlyphs">5.628B</text>
<g fill="#d1d4dc"><path d="M10 1125.5h8v9.5h-4v-5.5h-4z"/><circle cx="20.8" cy="1127.4" r="2.05"/><path d="M24.6 1125.5h4.8l-4 9.5h-4.8z"/></g>
<text x="32.9" y="1135.3" fill="#d1d4dc" textLength="70.6" lengthAdjust="spacingAndGlyphs" font-size="13" stroke="#d1d4dc" stroke-width="0.25">TradingView</text>
</svg>
</body></html>
